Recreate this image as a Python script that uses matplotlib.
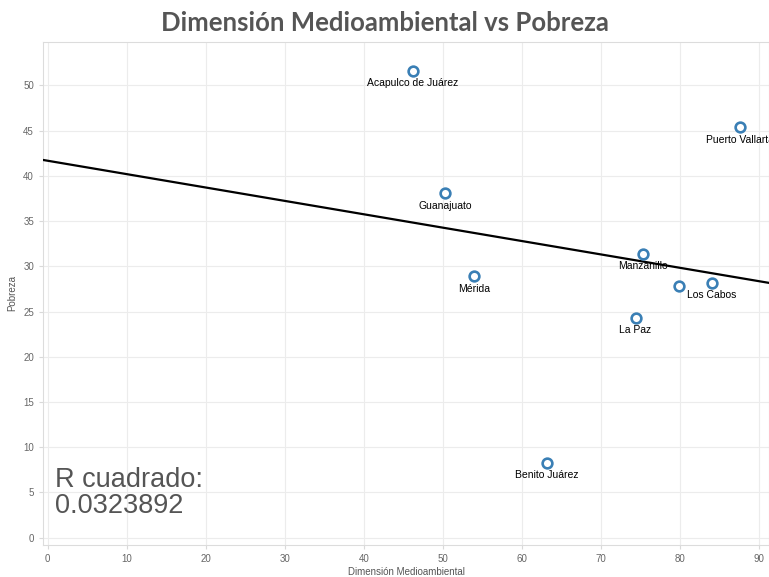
import numpy as np
import matplotlib
matplotlib.use("Agg")
from matplotlib import pyplot as plt

# ciudades
cities = ["Acapulco de Juárez", "Puerto Vallarta", "Guanajuato", "Mérida", "Manzanillo",
          "", "Los Cabos", "La Paz", "Benito Juárez"]
medioambiental = [46.2, 87.6, 50.3, 54.0, 75.4, 79.9, 84.1, 74.4, 63.2]
pobreza = [51.6, 45.4, 38.1, 28.9, 31.4, 27.8, 28.2, 24.3, 8.3]
r2_text = "R cuadrado:\n0.0323892"
x_ticks = list(range(0, 100, 10))
y_ticks = list(range(0, 55, 5))

plt.rcParams['font.family'] = ['Liberation Sans', 'DejaVu Sans']

fig = plt.figure(figsize=(7.69, 5.77), dpi=100)
ax = fig.add_axes([0.056, 0.0555, 0.944, 0.872])

# trend line (least squares)
slope, intercept = np.polyfit(medioambiental, pobreza, 1)
xs = np.array([-1, 95])
ax.plot(xs, intercept + slope * xs, color="black", lw=1.6, zorder=3)

ax.plot(medioambiental, pobreza, "o", ms=7, mfc="white", mec="#3a7fb5", mew=1.9, zorder=4)
for name, x, y in zip(cities, medioambiental, pobreza):
    if name:
        # Puerto Vallarta label runs off the right edge, as in the original
        ax.annotate(name, (x, y), xytext=(0, -5.5), textcoords="offset points",
                    ha="center", va="top", fontsize=7.5, color="black", zorder=5,
                    annotation_clip=False)

ax.text(0.9, 2.1, r2_text, fontsize=19.5, color="#555555", linespacing=1.0, va="bottom")

ax.set_xlim(-0.6, 91.3)
ax.set_ylim(-0.8, 54.8)
ax.set_xticks(x_ticks)
ax.set_yticks(y_ticks)
ax.grid(True, color="#ececec", lw=0.8)
ax.set_axisbelow(True)
ax.tick_params(colors="#d9d9d9", labelcolor="#666666", labelsize=7, length=3)
for s in ax.spines.values():
    s.set_color("#dcdcdc")

ax.set_xlabel("Dimensión Medioambiental", fontsize=7, color="#555555", labelpad=2)
ax.set_ylabel("Pobreza", fontsize=7, color="#555555", labelpad=4)

fig.text(0.5, 0.96, "Dimensión Medioambiental vs Pobreza", ha="center", va="center",
         fontsize=18.5, fontweight="bold", color="#555555", family="Lato")

fig.savefig("out.png", dpi=100)
